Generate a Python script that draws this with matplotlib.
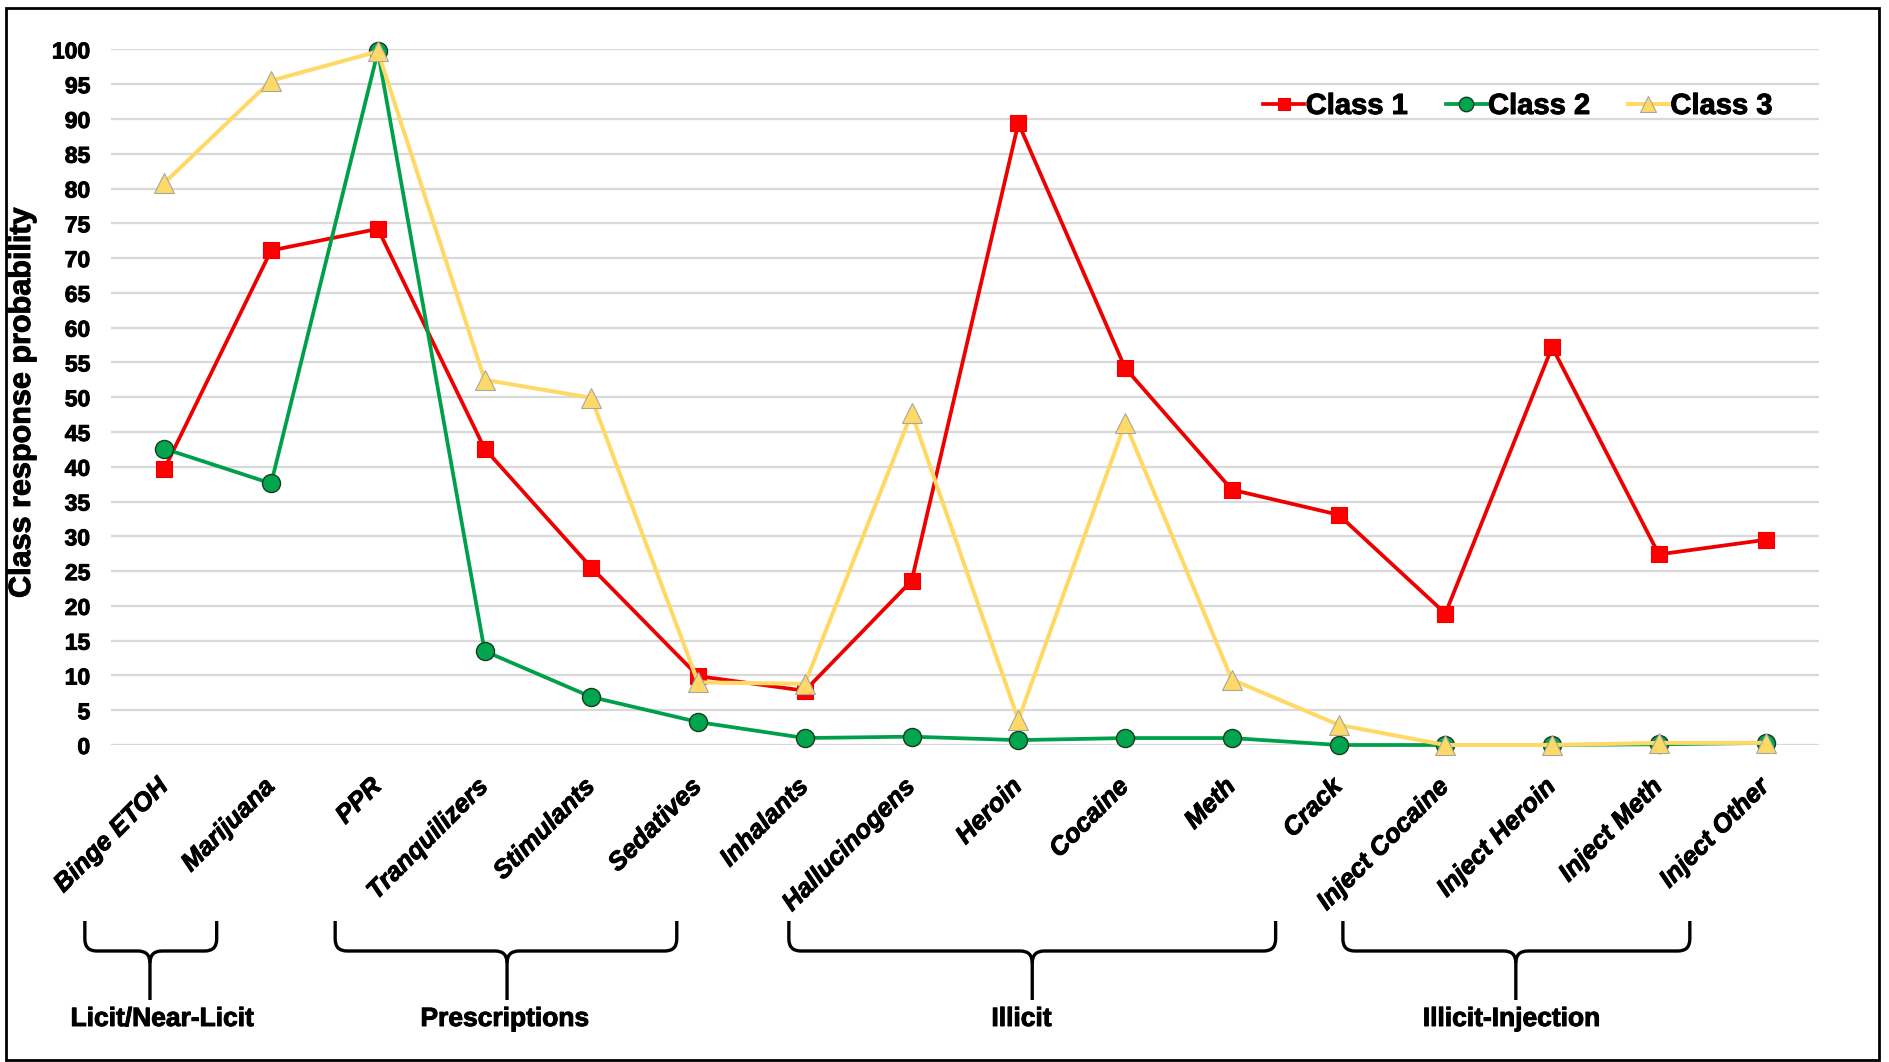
import matplotlib
matplotlib.use("Agg")
import matplotlib.pyplot as plt
import matplotlib.patheffects as pe
from matplotlib.path import Path
from matplotlib.patches import PathPatch, Rectangle

# ---------------- data ----------------
categories = ["Binge ETOH", "Marijuana", "PPR", "Tranquilizers", "Stimulants",
              "Sedatives", "Inhalants", "Hallucinogens", "Heroin", "Cocaine",
              "Meth", "Crack", "Inject Cocaine", "Inject Heroin", "Inject Meth",
              "Inject Other"]
class1 = [39.7, 71.1, 74.2, 42.6, 25.5, 9.9, 7.8, 23.6, 89.4, 54.2, 36.7, 33.1,
          18.9, 57.2, 27.4, 29.5]
class2 = [42.6, 37.6, 99.7, 13.5, 6.9, 3.3, 1.0, 1.2, 0.7, 1.0, 1.0, 0.0,
          0.0, 0.0, 0.1, 0.3]
class3 = [80.8, 95.5, 99.7, 52.5, 49.9, 9.0, 8.8, 47.7, 3.6, 46.3, 9.4, 2.9,
          0.0, 0.0, 0.3, 0.3]
series_names = ["Class 1", "Class 2", "Class 3"]
yticks = list(range(0, 101, 5))
group_labels = ["Licit/Near-Licit", "Prescriptions", "Illicit", "Illicit-Injection"]

# ---------------- layout (brace spans in category units) ----------------
brace_start = [-0.745, 1.60, 5.85, 11.04]
brace_end = [0.49, 4.80, 10.41, 14.29]
brace_tip = [-0.135, 3.21, 8.13, 12.66]
label_pos = [-0.02, 3.19, 8.03, 12.62]

W, H = 1889, 1062
plt.rcParams['font.family'] = ['Liberation Sans', 'DejaVu Sans']
fig = plt.figure(figsize=(W / 100, H / 100), dpi=100)
fig.patch.set_facecolor('white')

heavy = [pe.withStroke(linewidth=0.7, foreground='black')]

ax_left, ax_right, ax_top, ax_bot = 111, 1819, 49.4, 745
ax = fig.add_axes([ax_left / W, 1 - ax_bot / H, (ax_right - ax_left) / W,
                   (ax_bot - ax_top) / H])

x = list(range(len(categories)))
styles = [
    dict(color='#EE0000', marker='s', markersize=11, markerfacecolor='#FF0000',
         markeredgecolor='#EE0000', markeredgewidth=0.8, lw=2.7),
    dict(color='#00A04A', marker='o', markersize=13, markerfacecolor='#00A550',
         markeredgecolor='#1A3A1A', markeredgewidth=1.0, lw=2.7),
    dict(color='#FFD966', marker='^', markersize=14, markerfacecolor='#FFD966',
         markeredgecolor='#A6A6A6', markeredgewidth=0.8, lw=2.9),
]
for vals, name, st in zip([class1, class2, class3], series_names, styles):
    ax.plot(x, vals, label=name, clip_on=False, zorder=3, **st)

ax.set_xlim(-0.5, len(categories) - 0.5)
ax.set_ylim(0, 100)
ax.set_yticks(yticks)
ax.set_yticklabels([str(t) for t in yticks], fontsize=16.5, fontweight='bold')
ax.yaxis.grid(True, color='#D9D9D9', lw=1.6)
ax.set_axisbelow(True)
for s in ax.spines.values():
    s.set_visible(False)
ax.tick_params(axis='y', length=0, pad=15)
ax.set_xticks(x)
ax.set_xticklabels(categories, rotation=45, ha='right', va='center',
                   rotation_mode='anchor', fontsize=18.5, fontweight='bold',
                   fontstyle='italic')
ax.tick_params(axis='x', length=0, pad=27)
for t in ax.get_xticklabels() + ax.get_yticklabels():
    t.set_path_effects(heavy)

fig.text(22 / W, 1 - 403 / H, "Class response probability", rotation=90,
         ha='center', va='center', fontsize=22, fontweight='bold',
         path_effects=heavy)

leg = ax.legend(loc='center', bbox_to_anchor=(1518 / W, 1 - 106 / H),
                bbox_transform=fig.transFigure, ncol=3, frameon=False,
                prop=dict(size=21, weight='bold'), handlelength=1.4,
                handletextpad=0.05, columnspacing=1.3, markerscale=0.8)
for t in leg.get_texts():
    t.set_path_effects(heavy)

# overlay axes in pixel coordinates for braces and frame
ov = fig.add_axes([0, 0, 1, 1], zorder=-1)
ov.set_xlim(0, W)
ov.set_ylim(H, 0)
ov.axis('off')

def data_to_px(xv):
    x0, x1 = ax.get_xlim()
    return ax_left + (xv - x0) / (x1 - x0) * (ax_right - ax_left)

top_y, h_y, tip_y, txt_y = 921, 951, 1000, 1019
r = 12
for lab, s0, s1, tp, lp in zip(group_labels, brace_start, brace_end, brace_tip, label_pos):
    xa, xb, xc = data_to_px(s0), data_to_px(s1), data_to_px(tp)
    verts = [(xa, top_y), (xa, h_y - r), (xa, h_y), (xa + r, h_y),
             (xc - r, h_y), (xc, h_y), (xc, h_y + r), (xc, tip_y)]
    codes = [Path.MOVETO, Path.LINETO, Path.CURVE3, Path.CURVE3,
             Path.LINETO, Path.CURVE3, Path.CURVE3, Path.LINETO]
    ov.add_patch(PathPatch(Path(verts, codes), fill=False, lw=2.4, ec='black',
                           capstyle='butt'))
    verts = [(xb, top_y), (xb, h_y - r), (xb, h_y), (xb - r, h_y),
             (xc + r, h_y), (xc, h_y), (xc, h_y + r)]
    codes = [Path.MOVETO, Path.LINETO, Path.CURVE3, Path.CURVE3,
             Path.LINETO, Path.CURVE3, Path.CURVE3]
    ov.add_patch(PathPatch(Path(verts, codes), fill=False, lw=2.4, ec='black',
                           capstyle='butt'))
    ov.text(data_to_px(lp), txt_y, lab, ha='center', va='center',
            fontsize=19, fontweight='bold', path_effects=heavy)

ov.add_patch(Rectangle((6, 8), 1873, 1052, fill=False, ec='black', lw=2.0))

fig.savefig('out.png', dpi=100)
